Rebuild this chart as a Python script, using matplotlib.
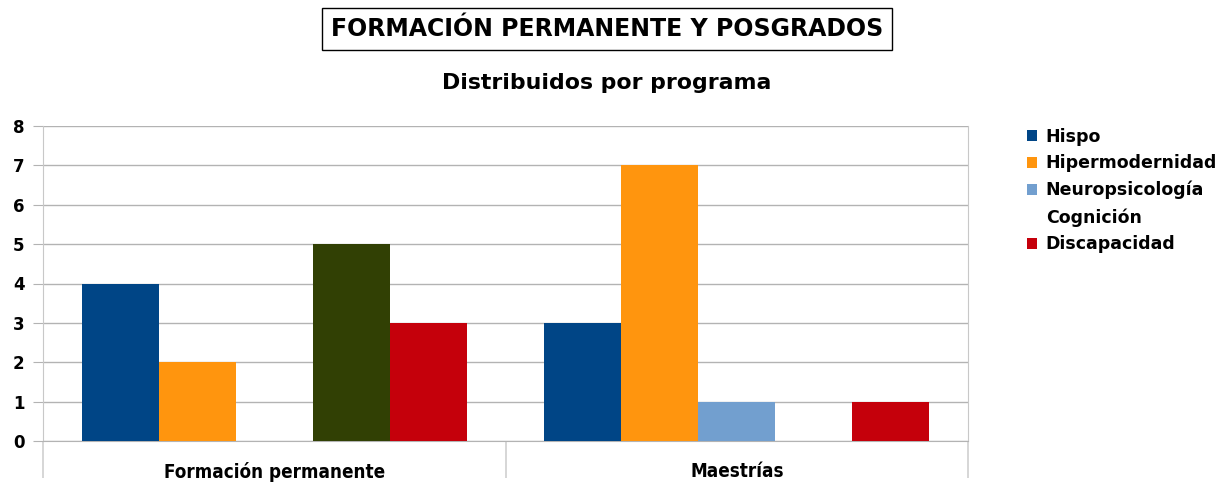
import numpy as np
import matplotlib
matplotlib.use("Agg")
import matplotlib.pyplot as plt
from matplotlib.patches import Patch

# Program counts per category
categories = ["Formación permanente", "Maestrías"]
series_names = ["Hispo", "Hipermodernidad", "Neuropsicología", "Cognición", "Discapacidad"]
hispo = [4, 3]
hipermodernidad = [2, 7]
neuropsicologia = [0, 1]
cognicion = [5, 0]
discapacidad = [3, 1]
series_values = [hispo, hipermodernidad, neuropsicologia, cognicion, discapacidad]
colors = ["#004586", "#ff950e", "#729fcf", "#314004", "#c5000b"]

plt.rcParams["font.family"] = "DejaVu Sans"
plt.rcParams["font.weight"] = "bold"

fig = plt.figure(figsize=(12.28, 4.83), dpi=100)
ax = fig.add_axes([43 / 1228, 42 / 483, 925 / 1228, 315 / 483])

x = np.arange(len(categories))
width = 1 / 6
for i, (vals, col) in enumerate(zip(series_values, colors)):
    ax.bar(x + (i - 2) * width, vals, width, color=col, zorder=3)

ax.set_xlim(-0.5, len(categories) - 0.5)
ax.set_ylim(0, 8)
ax.set_yticks(range(9))
ax.yaxis.grid(True, color="#b3b3b3", linewidth=1, zorder=0)
ax.tick_params(axis="y", length=7.2, color="#b3b3b3", labelsize=12, pad=6)

# category separators below the axis, labels centred between them
ax.set_xticks(np.arange(-0.5, len(categories)), minor=False)
ax.set_xticklabels([])
ax.set_xticks(x, minor=True)
ax.set_xticklabels(categories, minor=True, fontsize=13.5, fontweight="bold",
                   fontstretch="condensed")
ax.tick_params(axis="x", which="major", length=26.6, color="#d0d0d0", width=1.2)
ax.tick_params(axis="x", which="minor", length=0, pad=15)

for side in ["left", "right"]:
    ax.spines[side].set_color("#c8c8c8")
ax.spines["bottom"].set_color("#b3b3b3")
ax.spines["top"].set_visible(False)

fig.text(0.494, 0.939, "FORMACIÓN PERMANENTE Y POSGRADOS", ha="center", va="center",
         fontsize=17, fontweight="bold",
         bbox=dict(boxstyle="square,pad=0.38", facecolor="white", edgecolor="black", linewidth=1))
fig.text(0.494, 0.828, "Distribuidos por programa", ha="center", va="center",
         fontsize=15.8, fontweight="bold")

handles = [Patch(facecolor=c, edgecolor="none") for c in colors]
handles[3] = Patch(facecolor="none", edgecolor="none")
fig.legend(handles, series_names, loc="upper left", bbox_to_anchor=(1011 / 1228, 1 - 112 / 483),
           frameon=False, handlelength=0.6, handleheight=0.6,
           handletextpad=0.5, labelspacing=0.5, prop={"weight": "bold", "size": 12.5})

fig.savefig("out.png", dpi=100)
